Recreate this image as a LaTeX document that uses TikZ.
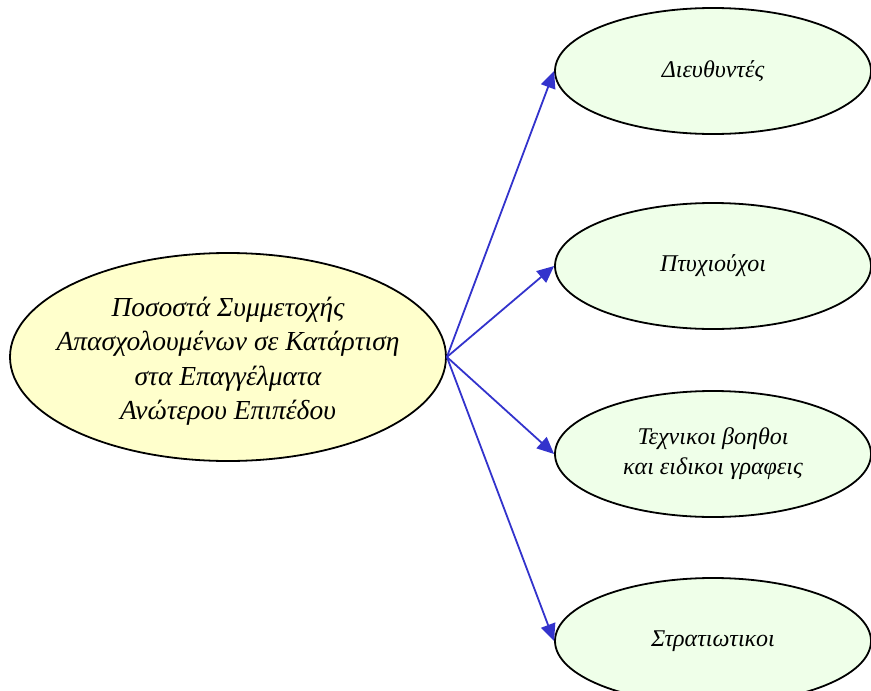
\documentclass[tikz,border=0pt]{standalone}
\usepackage{fontspec}
\setmainfont{Liberation Serif}
\usetikzlibrary{shapes.geometric,arrows.meta}
\definecolor{leftfill}{HTML}{FFFFCC}
\definecolor{rightfill}{HTML}{EFFFE9}
\definecolor{arrowblue}{HTML}{3333CC}
\begin{document}
\begin{tikzpicture}[x=1pt,y=-1pt,
  mainell/.style={ellipse,draw=black,line width=1.8pt,fill=leftfill,inner sep=0pt,
    minimum width=436pt,minimum height=208pt},
  maintext/.style={inner sep=0pt,align=center,
    font=\itshape\fontsize{27.5}{34.5}\selectfont},
  subell/.style={ellipse,draw=black,line width=1.8pt,fill=rightfill,inner sep=0pt,
    minimum width=316pt,minimum height=126pt,align=center,
    font=\itshape\fontsize{24}{30}\selectfont},
  link/.style={draw=arrowblue,line width=1.8pt,-{Triangle[length=17pt,width=15pt]}}]
\useasboundingbox (0,0) rectangle (871,691);
\node[mainell] (m) at (228,357) {};
\node[maintext] (mt) at (228,361) {Ποσοστά Συμμετοχής\\Απασχολουμένων σε Κατάρτιση\\στα Επαγγέλματα\\Ανώτερου Επιπέδου};
\node[subell] (a) at (713,71) {Διευθυντές};
\node[subell] (b) at (713,266) {Πτυχιούχοι};
\node[subell] (c) at (713,454) {Τεχνικοι βοηθοι\\και ειδικοι γραφεις};
\node[subell] (d) at (713,641) {Στρατιωτικοι};
\draw[link] (m.east) -- (a.west);
\draw[link] (m.east) -- (b.west);
\draw[link] (m.east) -- (c.west);
\draw[link] (m.east) -- (d.west);
\end{tikzpicture}
\end{document}
